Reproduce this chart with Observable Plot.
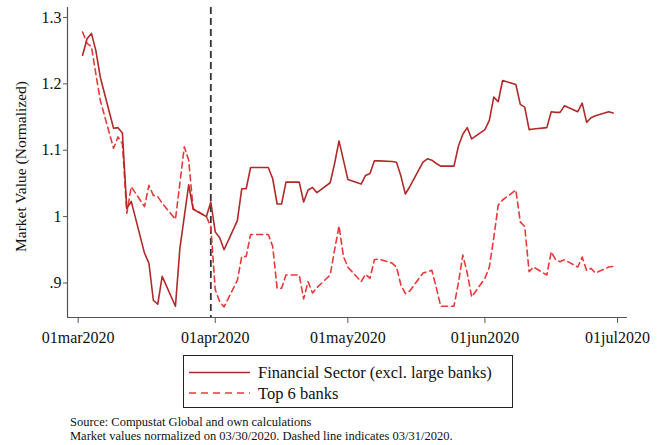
<!DOCTYPE html>
<html>
<head>
<meta charset="utf-8">
<script src="https://cdn.jsdelivr.net/npm/d3@7"></script>
<script src="https://cdn.jsdelivr.net/npm/@observablehq/plot@0.6"></script>
<style>
  body { margin: 0; background: #fff; font-family: "Liberation Serif", "Times New Roman", serif; }
  #wrap { position: relative; width: 662px; height: 445px; overflow: hidden; background: #fff; }
  #chart { position: absolute; left: 0; top: 0; }
  #legend { position: absolute; left: 183px; top: 355px; }
  #caption { position: absolute; left: 70px; top: 416px; font-size: 12.5px; line-height: 13.5px; color: #111; white-space: nowrap; }
</style>
</head>
<body>
<div id="wrap">
  <div id="chart"></div>
  <div id="legend"></div>
  <div id="caption">Source: Compustat Global and own calculations<br>Market values normalized on 03/30/2020. Dashed line indicates 03/31/2020.</div>
</div>
<script>
// ---- data ----
const dates = [
  "2020-03-02","2020-03-03","2020-03-04","2020-03-05","2020-03-06",
  "2020-03-09","2020-03-10","2020-03-11","2020-03-12","2020-03-13",
  "2020-03-16","2020-03-17","2020-03-18","2020-03-19","2020-03-20",
  "2020-03-23","2020-03-24","2020-03-25","2020-03-26","2020-03-27",
  "2020-03-30","2020-03-31","2020-04-01","2020-04-02","2020-04-03",
  "2020-04-06","2020-04-07","2020-04-08","2020-04-09",
  "2020-04-13","2020-04-14","2020-04-15","2020-04-16","2020-04-17",
  "2020-04-20","2020-04-21","2020-04-22","2020-04-23","2020-04-24",
  "2020-04-27","2020-04-28","2020-04-29","2020-04-30","2020-05-01",
  "2020-05-04","2020-05-05","2020-05-06","2020-05-07","2020-05-08",
  "2020-05-11","2020-05-12","2020-05-13","2020-05-14","2020-05-15",
  "2020-05-18","2020-05-19","2020-05-20","2020-05-21","2020-05-22",
  "2020-05-25","2020-05-26","2020-05-27","2020-05-28","2020-05-29",
  "2020-06-01","2020-06-02","2020-06-03","2020-06-04","2020-06-05",
  "2020-06-08","2020-06-09","2020-06-10","2020-06-11","2020-06-12",
  "2020-06-15","2020-06-16","2020-06-17","2020-06-18","2020-06-19",
  "2020-06-22","2020-06-23","2020-06-24","2020-06-25","2020-06-26",
  "2020-06-29","2020-06-30"
];
const financialSector = [
  1.243,1.268,1.276,1.250,1.210,
  1.133,1.134,1.126,1.012,1.023,
  0.945,0.930,0.874,0.868,0.910,
  0.865,0.952,1.000,1.048,1.011,
  1.000,1.022,0.977,0.968,0.950,
  0.994,1.042,1.042,1.074,
  1.074,1.057,1.019,1.019,1.052,
  1.052,1.022,1.040,1.044,1.036,
  1.051,1.080,1.114,1.085,1.056,
  1.049,1.062,1.065,1.084,1.084,
  1.083,1.082,1.061,1.034,1.045,
  1.082,1.087,1.085,1.080,1.076,
  1.076,1.106,1.124,1.134,1.117,
  1.131,1.145,1.180,1.173,1.205,
  1.199,1.169,1.165,1.131,1.132,
  1.134,1.158,1.157,1.157,1.167,
  1.158,1.171,1.142,1.149,1.152,
  1.158,1.156
];
const top6Banks = [
  1.278,1.261,1.256,1.215,1.175,
  1.103,1.120,1.110,1.005,1.045,
  1.015,1.047,1.032,1.030,1.020,
  0.996,1.050,1.105,1.085,1.012,
  1.000,0.985,0.890,0.872,0.864,
  0.904,0.940,0.940,0.973,
  0.973,0.955,0.892,0.892,0.912,
  0.912,0.876,0.902,0.885,0.893,
  0.912,0.950,0.986,0.940,0.924,
  0.902,0.913,0.907,0.935,0.936,
  0.930,0.924,0.897,0.884,0.888,
  0.915,0.917,0.919,0.893,0.865,
  0.865,0.900,0.942,0.915,0.879,
  0.907,0.924,0.968,1.017,1.025,
  1.040,0.992,0.985,0.917,0.924,
  0.912,0.947,0.935,0.932,0.935,
  0.924,0.939,0.919,0.922,0.915,
  0.924,0.925
];
const seriesNames = ["Financial Sector (excl. large banks)", "Top 6 banks"];
const xTickDates = ["2020-03-01","2020-04-01","2020-05-01","2020-06-01","2020-07-01"];
const xTickLabels = ["01mar2020","01apr2020","01may2020","01jun2020","01jul2020"];
const yTicks = [0.9, 1.0, 1.1, 1.2, 1.3];
const yTickLabels = [".9", "1", "1.1", "1.2", "1.3"];
const markerDate = "2020-03-31";
const yLabel = "Market Value (Normalized)";

// ---- build table ----
const parse = s => new Date(s + "T00:00:00Z");
const rows = [];
dates.forEach((d, i) => {
  rows.push({date: parse(d), value: financialSector[i], series: seriesNames[0]});
  rows.push({date: parse(d), value: top6Banks[i], series: seriesNames[1]});
});
const xTicks = xTickDates.map(parse);
const xDomain = [new Date(Date.UTC(2020, 1, 27, 14)), new Date(Date.UTC(2020, 6, 3, 6))];
const yDomain = [0.848, 1.315];
const solidColor = "#b02a2a";
const dashColor = "#e8393a";

const chart = Plot.plot({
  width: 662,
  height: 352,
  marginLeft: 67,
  marginRight: 35,
  marginTop: 7,
  marginBottom: 35,
  style: {fontFamily: "'Liberation Serif', 'Times New Roman', serif", fontSize: "16px", color: "#111", background: "transparent", overflow: "visible"},
  x: {type: "utc", domain: xDomain},
  y: {domain: yDomain},
  marks: [
    Plot.ruleY([yDomain[0]], {stroke: "#555", strokeWidth: 1.2}),
    Plot.ruleX([xDomain[0]], {stroke: "#555", strokeWidth: 1.2}),
    Plot.axisX({ticks: xTicks, tickFormat: d => xTickLabels[xTicks.findIndex(t => +t === +d)], tickSize: 6, tickPadding: 8, fontSize: 16, stroke: "#555", fill: "#111", label: null}),
    Plot.axisY({ticks: yTicks, tickFormat: d => yTickLabels[yTicks.findIndex(t => Math.abs(t - d) < 1e-9)], tickSize: 4, tickPadding: 2, fontSize: 16, stroke: "#555", fill: "#111", label: null}),
    Plot.text([yLabel], {frameAnchor: "left", textAnchor: "middle", rotate: -90, dx: -46, dy: 4, fontSize: 15.5, fill: "#111"}),
    Plot.ruleX([parse(markerDate)], {stroke: "#333", strokeWidth: 1.8, strokeDasharray: "7,4"}),
    Plot.line(rows.filter(r => r.series === seriesNames[1]), {x: "date", y: "value", stroke: dashColor, strokeWidth: 1.6, strokeDasharray: "6,4"}),
    Plot.line(rows.filter(r => r.series === seriesNames[0]), {x: "date", y: "value", stroke: solidColor, strokeWidth: 1.6})
  ]
});
document.getElementById("chart").appendChild(chart);

// ---- legend ----
const ns = "http://www.w3.org/2000/svg";
const lg = document.createElementNS(ns, "svg");
lg.setAttribute("width", 331);
lg.setAttribute("height", 54);
const mk = (tag, attrs) => { const e = document.createElementNS(ns, tag); for (const k in attrs) e.setAttribute(k, attrs[k]); lg.appendChild(e); return e; };
mk("rect", {x: 0.5, y: 0.5, width: 329, height: 52, fill: "#fff", stroke: "#222", "stroke-width": 1});
mk("line", {x1: 6, x2: 67, y1: 17.5, y2: 17.5, stroke: solidColor, "stroke-width": 1.6});
mk("line", {x1: 6, x2: 67, y1: 38, y2: 38, stroke: dashColor, "stroke-width": 1.6, "stroke-dasharray": "7,5"});
[seriesNames[0], seriesNames[1]].forEach((s, i) => {
  const t = mk("text", {x: 75, y: i === 0 ? 23 : 43.5, "font-size": 16.5, "font-family": "'Liberation Serif', 'Times New Roman', serif", fill: "#111"});
  t.textContent = s;
});
document.getElementById("legend").appendChild(lg);
</script>
</body>
</html>
